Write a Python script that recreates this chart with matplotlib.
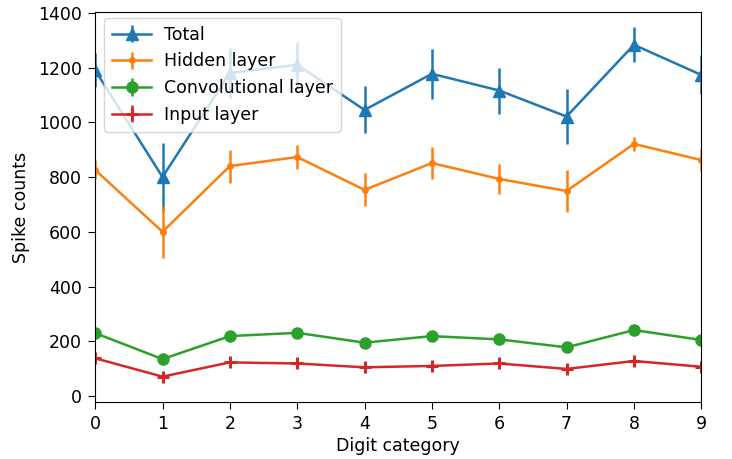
import matplotlib
matplotlib.use("Agg")
import matplotlib.pyplot as plt
import numpy as np

digits = [0, 1, 2, 3, 4, 5, 6, 7, 8, 9]
total = [1190, 800, 1180, 1210, 1045, 1177, 1116, 1021, 1283, 1173]
total_err = [62, 125, 90, 85, 86, 91, 84, 100, 64, 71]
hidden = [826, 600, 840, 873, 753, 851, 793, 749, 921, 862]
hidden_err = [35, 95, 60, 44, 60, 57, 55, 77, 27, 40]
conv = [230, 135, 219, 231, 195, 219, 207, 178, 241, 205]
conv_err = [14, 12, 16, 14, 12, 18, 14, 14, 12, 14]
inp = [138, 71, 123, 119, 105, 110, 119, 99, 128, 107]
inp_err = [16, 18, 18, 16, 14, 16, 16, 14, 18, 16]

plt.rcParams['font.size'] = 12.5
plt.rcParams['xtick.major.size'] = 5
plt.rcParams['ytick.major.size'] = 5
plt.rcParams['xtick.major.pad'] = 4.5
plt.rcParams['ytick.major.pad'] = 4.5
fig = plt.figure(figsize=(7.32, 4.59), dpi=100)
ax = fig.add_axes([0.13, 0.124, 0.828, 0.850])

lw = 1.8
ax.errorbar(digits, total, yerr=total_err, marker='^', markersize=9, lw=lw, elinewidth=lw, color='#1f77b4', label='Total')
ax.errorbar(digits, hidden, yerr=hidden_err, marker='.', markersize=8, lw=lw, elinewidth=lw, color='#ff7f0e', label='Hidden layer')
ax.errorbar(digits, conv, yerr=conv_err, marker='o', markersize=8, lw=lw, elinewidth=lw, color='#2ca02c', label='Convolutional layer')
ax.errorbar(digits, inp, yerr=inp_err, marker='+', markersize=9, markeredgewidth=2.2, lw=lw, elinewidth=lw, color='#d62728', label='Input layer')

ax.set_xlim(0, 9)
ax.set_ylim(-22, 1403)
ax.set_xticks(digits)
ax.set_yticks([0, 200, 400, 600, 800, 1000, 1200, 1400])
ax.set_xlabel('Digit category', labelpad=3)
ax.set_ylabel('Spike counts', labelpad=6)
ax.legend(loc='upper left', bbox_to_anchor=(0.0149, 0.9846), borderaxespad=0,
          handlelength=2.25, handletextpad=0.75, labelspacing=0.5, borderpad=0.45)

fig.savefig('out.png', dpi=100)
